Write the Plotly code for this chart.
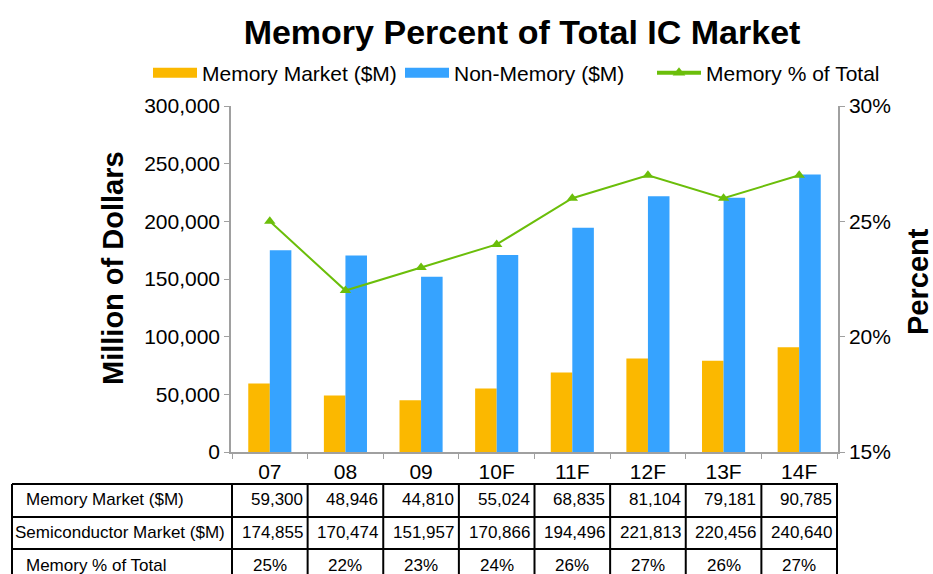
import plotly.graph_objects as go

categories = ["07", "08", "09", "10F", "11F", "12F", "13F", "14F"]
memory_market = [59300, 48946, 44810, 55024, 68835, 81104, 79181, 90785]
semi_market = [174855, 170474, 151957, 170866, 194496, 221813, 220456, 240640]
memory_pct = [25, 22, 23, 24, 26, 27, 26, 27]
row_labels = ["Memory Market ($M)", "Semiconductor Market ($M)", "Memory % of Total"]
legend_names = ["Memory Market ($M)", "Non-Memory ($M)", "Memory % of Total"]

ORANGE = "#FBB800"
BLUE = "#36A3FF"
GREEN = "#6BBE0A"
AXIS = "#A0A0A0"
FONT = "Liberation Sans, Arial, sans-serif"

fig = go.Figure()
fig.add_trace(go.Bar(x=categories, y=memory_market, name=legend_names[0], showlegend=False,
                     marker=dict(color=ORANGE, line=dict(width=0))))
fig.add_trace(go.Bar(x=categories, y=semi_market, name=legend_names[1], showlegend=False,
                     marker=dict(color=BLUE, line=dict(width=0))))
fig.add_trace(go.Scatter(x=categories, y=memory_pct, name=legend_names[2], yaxis="y2",
                         mode="lines+markers", showlegend=False,
                         line=dict(color=GREEN, width=2),
                         marker=dict(symbol="triangle-up", size=10, color=GREEN)))
# legend entries (wide swatches like the original)
fig.add_trace(go.Scatter(x=[None], y=[None], mode="lines", name=legend_names[0],
                         line=dict(color=ORANGE, width=10)))
fig.add_trace(go.Scatter(x=[None], y=[None], mode="lines", name=legend_names[1],
                         line=dict(color=BLUE, width=10)))
fig.add_trace(go.Scatter(x=[None], y=[None], mode="lines+markers", name=legend_names[2],
                         line=dict(color=GREEN, width=4),
                         marker=dict(symbol="triangle-up", size=11, color=GREEN)))

# table geometry (paper coordinates)
row_lines = [-0.0925, -0.1879, -0.2803]
row_bottom = -0.40
row_centers = [-0.1387, -0.2341, -0.3266]
left_px = 12
plot_l, plot_w = 231, 607
left_paper = (left_px - plot_l) / plot_w

shapes = []
for yl in row_lines:
    shapes.append(dict(type="line", xref="paper", yref="paper", x0=left_paper, x1=1.0,
                       y0=yl, y1=yl, line=dict(color="black", width=2)))
shapes.append(dict(type="line", xref="paper", yref="paper", x0=left_paper, x1=left_paper,
                   y0=row_lines[0], y1=row_bottom, line=dict(color="black", width=2)))
for k in range(len(categories) + 1):
    shapes.append(dict(type="line", xref="x", yref="paper", x0=k - 0.5, x1=k - 0.5,
                       y0=row_lines[0], y1=row_bottom, line=dict(color="black", width=2)))

annotations = []
label_shift = [12, 1, 12]
for i, lab in enumerate(row_labels):
    annotations.append(dict(text=lab, xref="paper", yref="paper", x=left_paper, y=row_centers[i],
                            xanchor="left", yanchor="middle", xshift=label_shift[i], showarrow=False,
                            font=dict(family=FONT, size=17, color="black")))
rows = [[f"{v:,}" for v in memory_market], [f"{v:,}" for v in semi_market],
        [f"{v}%" for v in memory_pct]]
for r, vals in enumerate(rows):
    for k, txt in enumerate(vals):
        if r < 2:
            annotations.append(dict(text=txt, xref="x", yref="paper", x=k + 0.5, y=row_centers[r],
                                    xanchor="right", yanchor="middle", xshift=-3, showarrow=False,
                                    font=dict(family=FONT, size=17, color="black")))
        else:
            annotations.append(dict(text=txt, xref="x", yref="paper", x=k, y=row_centers[r],
                                    xanchor="center", yanchor="middle", showarrow=False,
                                    font=dict(family=FONT, size=17, color="black")))

annotations.append(dict(text="<b>Million of Dollars</b>", xref="paper", yref="paper",
                        x=(113 - plot_l) / plot_w, y=(452 - 268) / 346, textangle=-90,
                        showarrow=False, xanchor="center", yanchor="middle",
                        font=dict(family=FONT, size=29, color="black")))
annotations.append(dict(text="<b>Percent</b>", xref="paper", yref="paper",
                        x=(918 - plot_l) / plot_w, y=(452 - 282) / 346, textangle=-90,
                        showarrow=False, xanchor="center", yanchor="middle",
                        font=dict(family=FONT, size=29, color="black")))

fig.update_layout(
    width=933, height=574,
    margin=dict(l=231, r=95, t=106, b=122),
    paper_bgcolor="white", plot_bgcolor="white",
    font=dict(family=FONT, size=21, color="black"),
    title=dict(text="<b>Memory Percent of Total IC Market</b>", x=522 / 933, xanchor="center",
               y=1 - 32 / 574, yanchor="middle", font=dict(family=FONT, size=34, color="black")),
    barmode="group", bargap=0.43, bargroupgap=0,
    showlegend=True,
    legend=dict(orientation="h", x=(148 - plot_l) / plot_w, xanchor="left",
                y=(452 - 73) / 346, yanchor="middle", itemwidth=44,
                entrywidth=193, entrywidthmode="pixels",
                font=dict(family=FONT, size=21), tracegroupgap=0,
                bgcolor="rgba(0,0,0,0)"),
    xaxis=dict(type="category", showline=True, linecolor=AXIS, linewidth=1.5,
               ticks="outside", tickson="boundaries", ticklen=5, tickcolor=AXIS,
               tickfont=dict(size=21), showgrid=False, zeroline=False),
    yaxis=dict(range=[0, 300000], dtick=50000, tickformat=",", showline=True,
               linecolor=AXIS, linewidth=1.5, ticks="outside", ticklen=5, tickcolor=AXIS,
               tickfont=dict(size=21), showgrid=False, zeroline=False),
    yaxis2=dict(range=[15, 30], dtick=5, ticksuffix="%", overlaying="y", side="right",
                showline=True, linecolor=AXIS, linewidth=1.5, ticks="outside", ticklen=5,
                tickcolor=AXIS, tickfont=dict(size=21), showgrid=False, zeroline=False),
    shapes=shapes, annotations=annotations,
)

fig.write_html("out.html", config={"displayModeBar": False},
               post_script="document.body.style.margin='0';")
